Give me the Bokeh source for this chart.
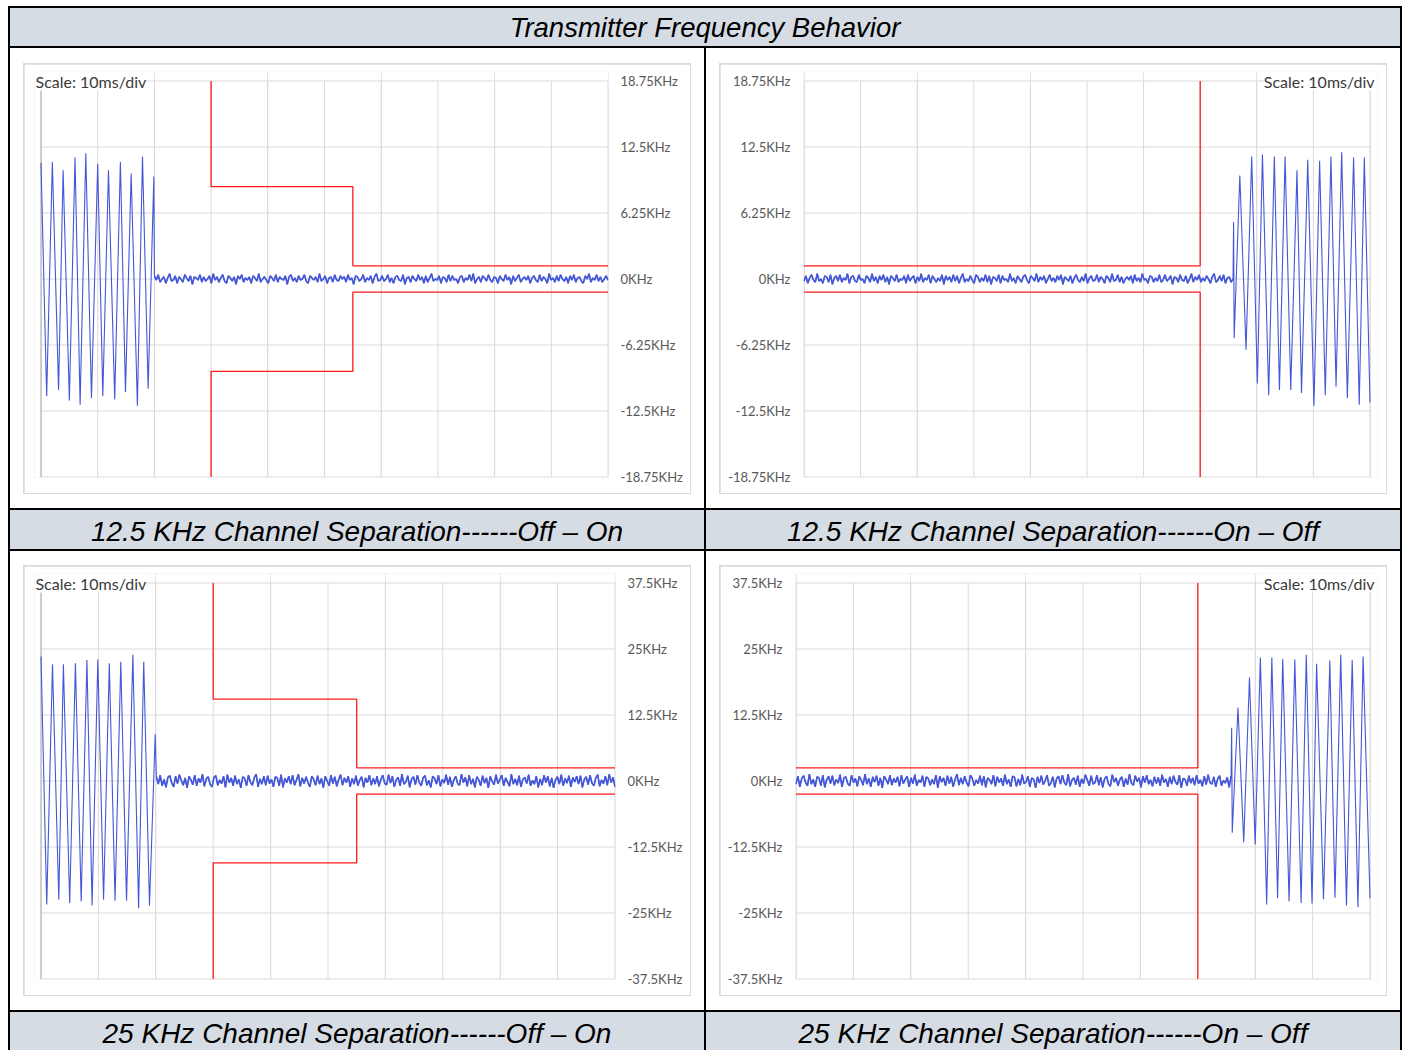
import numpy as np
from bokeh.plotting import figure
from bokeh.layouts import column, row
from bokeh.models import Div, FixedTicker, Label, Range1d
from bokeh.embed import file_html
from bokeh.resources import INLINE

# ---------------- data ----------------
TITLE = "Transmitter Frequency Behavior"
CAPTIONS = [
    "12.5 KHz Channel Separation------Off \u2013 On",
    "12.5 KHz Channel Separation------On \u2013 Off",
    "25 KHz Channel Separation------Off \u2013 On",
    "25 KHz Channel Separation------On \u2013 Off",
]
SCALE_TEXT = "Scale: 10ms/div"

TIME_TICKS = [0, 10, 20, 30, 40, 50, 60, 70, 80, 90, 100]
TICKS_12K5 = [-18.75, -12.5, -6.25, 0, 6.25, 12.5, 18.75]
LABELS_12K5 = ["-18.75KHz", "-12.5KHz", "-6.25KHz", "0KHz", "6.25KHz", "12.5KHz", "18.75KHz"]
TICKS_25K = [-37.5, -25, -12.5, 0, 12.5, 25, 37.5]
LABELS_25K = ["-37.5KHz", "-25KHz", "-12.5KHz", "0KHz", "12.5KHz", "25KHz", "37.5KHz"]

# masks (time in ms, upper limit in KHz; lower limit is the mirror)
MASK_T_OFF_ON = [30, 30, 55, 55, 100]
MASK_12K5_OFF_ON = [18.75, 8.75, 8.75, 1.25, 1.25]
MASK_25K_OFF_ON = [37.5, 15.5, 15.5, 2.5, 2.5]
MASK_T_ON_OFF = [0, 70, 70]
MASK_12K5_ON_OFF = [1.25, 1.25, 18.75]
MASK_25K_ON_OFF = [2.5, 2.5, 37.5]

# 12.5 KHz, Off -> On : burst then settled carrier (noise in 0.1 KHz units)
TL_BURST_T = [0, 1.0, 2.0, 3.1, 3.9, 5.0, 6.0, 6.9, 7.9, 8.9, 10.0, 10.9, 11.9, 13.0,
              14.0, 14.9, 15.9, 17.0, 17.9, 18.9, 19.9]
TL_BURST_F = [11.0, -11.1, 11.1, -10.5, 10.3, -11.5, 11.5, -11.9, 11.9, -11.3, 10.9,
              -11.1, 10.3, -11.4, 11.1, -10.7, 10.0, -12.0, 11.6, -10.4, 9.7]
TL_NOISE_SPAN = [20.0, 100.0]
TL_NOISE = [3, -1, 4, -3, 0, 2, -4, 1, 5, -2, -1, 3, -4, 2, 0, -3, 4, 1, -2, 3,
            -5, 2, 1, -1, 4, -3, 2, -2, 0, 3, -4, 5, -1, 2, -3, 1, 4, -2, -4, 3,
            1, -2, 2, -5, 3, 0, 4, -3, 1, -1, 2, -4, 3, 1, -2, 5, -3, 0, 2, -1,
            -4, 3, 1, -2, 4, -3, 2, 0, -1, 3, -5, 2, 4, -2, 1, -3, 3, -1, 0, 4,
            -2, -4, 3, 1, -1, 2, -3, 5, -2, 0, 3, -4, 1, 2, -3, 4, -1, -2, 3, 0,
            2, -3, 4, -1, 1, -5, 3, 2, -2, 0, 4, -3, 1, -1, 3, -4, 2, 5, -2, -1,
            3, -2, 0, 4, -3, 1, -4, 2, 3, -1, -2, 4, -5, 1, 2, -3, 3, 0, -2, 4,
            -1, 2, -4, 3, -3, 1, 5, -2, 0, -1, 3, -4, 2, 1, -3, 4, -2, 3, -1, 0,
            -4, 2, 3, -3, 1, -1, 4, -2, 5, -4, 0, 2, -3, 3, 1, -2, 4, -1, -3, 2,
            1, -4, 3, 0, -2, 4, -1, 2, -5, 3, -2, 1, 4, -3, 0, 2, -1, 3, -4, 1,
            3, -1, -3, 4, -2, 2, 0, -4, 5, -1, 1, -3, 3, -2, 4, 0, -2, 2, -4, 3,
            -1, 4, -3, 1, 2, -2, -4, 3, 0, 5, -3, 1, -1, 4, -2, 2, -3, 0, 3, -1]

# 12.5 KHz, On -> Off : carrier then burst
TR_NOISE_SPAN = [0.0, 75.8]
TR_NOISE = [-2, 3, -4, 1, 4, -1, -3, 5, -2, 0, -4, 3, 2, -3, 4, -5, 1, 3, -2,
            4, -3, 1, -1, 5, -4, 2, 3, -2, -3, 4, -1, 0, -4, 3, 1, -3, 5, -2,
            2, -4, 3, -1, 4, -3, 2, -5, 3, 1, -2, 4, -3, 0, -1, 3, -4, 4, -2,
            1, 3, -4, 2, -2, 5, -3, 1, -1, 4, -4, 3, 0, -3, 1, -2, 4, -5, 3,
            -1, 2, -3, 4, -2, 3, -4, 1, 5, -3, 0, -2, 3, -1, -4, 4, 2, -3, 1,
            -2, 4, -3, 3, -5, 2, 1, -2, 4, -4, 3, -1, 0, -3, 5, -2, 1, -4, 3,
            0, -3, 2, 4, -1, -4, 3, 1, -2, 5, -3, 2, -1, 3, -4, 0, 4, -2, 1,
            -3, 3, -1, 4, -5, 2, 0, -2, 3, -4, 1, 4, -1, -3, 2, -2, 5, -4, 1,
            3, -2, -1, 4, -3, 2, 0, -4, 3, 1, -3, 5, -2, -1, 4, -3, 2, -4, 0,
            2, -1, 3, -4, 4, -2, 1, -3, 5, -1, 0, -4, 3, 2, -3, 1, -2, 4, -3,
            -1, 4, -2, 0, 3, -5, 2, 1, -3, 4, -1, -2, 3, -4, 0, 5, -3, 2, -1,
            4, -3, 1, -2, 3, 0, -4, 2, 5, -3, -1, 3, -2, 4, -4, 1, 2, -3, 0]
TR_BURST_T = [75.9, 76.0, 77.0, 78.1, 79.1, 80.1, 81.0, 82.1, 83.1, 84.0, 85.0, 86.0, 87.1,
              87.9, 89.0, 90.1, 91.1, 92.1, 93.1, 94.0, 95.0, 96.0, 97.1, 98.1, 99.0, 100.0]
TR_BURST_F = [5.4, -5.6, 9.8, -6.7, 11.6, -9.9, 11.8, -11.0, 11.6, -10.5, 11.6, -10.5, 10.3,
              -10.8, 11.3, -12.0, 11.2, -11.0, 11.6, -10.2, 12.0, -11.3, 11.5, -11.9, 11.5, -11.7]

# 25 KHz, Off -> On
BL_BURST_T = [0, 1.0, 2.0, 3.1, 3.9, 5.0, 6.0, 7.0, 8.0, 8.9, 9.9, 10.9, 11.9, 12.9,
              13.9, 14.9, 16.0, 17.0, 17.9, 18.9, 19.9]
BL_BURST_F = [23.6, -23.4, 22.1, -22.5, 22.1, -23.1, 22.3, -22.8, 22.9, -23.6, 23.0,
              -22.5, 22.3, -22.7, 22.6, -22.7, 23.9, -24.1, 22.6, -23.6, 8.9]
BL_NOISE_SPAN = [20.1, 100.0]
BL_NOISE = [8, -6, 11, -9, 3, -12, 7, 10, -4, -11, 9, -5, 12, 1, -8, 6, -13, 9, 2, -7,
            11, -9, 5, -3, 13, -10, 4, 8, -6, -11, 7, 10, -8, 2, -5, 9, -12, 12, -3, 6,
            -9, 10, -6, 3, -13, 8, 5, -9, 11, -2, -8, 6, 13, -11, 4, -6, 9, -8, 10, -5,
            3, -11, 8, 6, -9, 12, -12, 5, -3, 9, -6, 11, -8, 2, 13, -10, 6, -5, 8, -3,
            -11, 9, 3, -8, 10, -6, 5, -13, 9, 0, -9, 11, -5, 8, -10, 3, 12, -8, 6, -3,
            9, -11, 5, -6, 10, -9, 2, 8, -12, 6, -3, 11, -8, 5, -6, 9, -10, 3, 11, -5,
            -7, 12, -4, 9, -11, 2, 7, -9, 13, -6, -2, 10, -12, 4, 8, -7, 11, -3, -9, 6,
            10, -8, 1, -12, 9, 5, -6, 11, -10, 3, -4, 12, -7, 8, -11, 2, 9, -5, -8, 13,
            -3, 7, -10, 11, -6, 4, -12, 8, 2, -9, 10, -4, 6, -13, 9, -1, -7, 12, -5, 3,
            11, -9, 6, -2, -10, 13, -6, 4, -8, 10, -11, 3, 7, -5, 12, -9, 1, -6, 9, -12,
            4, -8, 11, -3, 9, -10, 6, -13, 2, 8, -6, 12, -9, 5, -4, 10, -11, 7, -2, 9,
            -6, 10, -12, 3, 8, -7, 11, -4, -9, 6, 12, -10, 2, -5, 9, -8, 13, -3, 7, -11]

# 25 KHz, On -> Off
BR_NOISE_SPAN = [0.0, 75.8]
BR_NOISE = [-6, 9, -11, 5, 10, -3, -9, 13, -6, 3, -11, 8, 6, -9, 11, -12, 2, 9, -5,
            10, -8, 3, -4, 12, -11, 6, 8, -5, -9, 11, -3, 5, -10, 9, 2, -8, 13, -6,
            5, -11, 8, -2, 10, -9, 6, -13, 9, 3, -6, 11, -8, 5, -3, 8, -10, 11, -5,
            3, 9, -11, 6, -5, 12, -9, 2, -3, 10, -11, 8, 5, -8, 3, -6, 11, -13, 9,
            -2, 6, -9, 10, -5, 8, -11, 3, 13, -8, 6, -6, 9, -3, -10, 11, 5, -9, 2,
            -5, 10, -8, 9, -12, 6, 2, -6, 11, -10, 8, -3, 5, -9, 12, -6, 3, -11, 9,
            7, -10, 4, -8, 12, -5, -2, 9, -11, 6, 3, -13, 8, -4, 10, -7, 1, 11, -9,
            -4, 8, -12, 5, 9, -6, 11, -3, -8, 13, -10, 2, 6, -7, 10, -11, 4, -5, 12,
            2, -9, 10, -6, -3, 11, -8, 7, -12, 4, 9, -5, -10, 12, -2, 6, -9, 3, 8,
            -11, 5, -7, 13, -4, -8, 10, -1, 6, -12, 9, -3, 11, -6, 2, -10, 8, -5, 7,
            -9, 12, -3, 4, -11, 8, -6, 10, -2, -7, 11, -13, 5, 3, -9, 10, -4, 6, -8,
            11, -5, 2, -10, 9, -7, 12, -3, -6, 8, -11, 4, 10, -9, 1, -4, 7, -12, 9]
BR_BURST_T = [75.9, 76.0, 77.0, 78.0, 79.0, 80.0, 80.9, 82.0, 82.9, 83.9, 84.8, 85.9, 86.9,
              88.0, 88.9, 89.9, 90.7, 91.9, 93.0, 93.9, 94.9, 95.9, 96.9, 97.9, 98.8, 100.0]
BR_BURST_F = [10.1, -9.8, 13.9, -11.6, 19.6, -12.0, 23.4, -23.4, 23.4, -22.2, 23.1, -22.8, 23.0,
              -23.1, 23.9, -23.2, 22.2, -22.4, 22.8, -22.1, 23.9, -23.6, 22.9, -23.9, 23.6, -22.2]
NOISE_UNIT = 0.1  # KHz per noise count

# ---------------- styles ----------------
BLUE = "#4357d8"
RED = "#ff1a1a"
GRID = "#d9d9d9"
AXIS_EDGE = "#b4b4b4"
HEAD_BG = "#d6dce4"
LABEL_FONT = "Lato"
TEXT_FONT = "'Liberation Sans', Arial, sans-serif"


def noise_xy(noise_span, noise):
    nt = list(np.linspace(noise_span[0], noise_span[1], len(noise)))
    return nt, [v * NOISE_UNIT for v in noise]


def panel(burst_t, burst_f, noise_span, noise, burst_first, mask_t, mask_up,
          ticks, labels, side, data_w, ext_l, ext_r, border_l, border_r,
          standoff, scale_x, scale_align):
    lim = max(ticks)
    data_h, ext_t, ext_b = 396, 9.5, 0.5
    xs = 100.0 / data_w
    ys = 2.0 * lim / data_h
    p = figure(frame_width=int(round(data_w + ext_l + ext_r)),
               frame_height=int(round(data_h + ext_t + ext_b)),
               x_range=Range1d(-ext_l * xs, 100 + ext_r * xs),
               y_range=Range1d(-lim - ext_b * ys, lim + ext_t * ys),
               x_axis_location=None, y_axis_location=side,
               min_border_left=border_l, min_border_right=border_r,
               min_border_top=7, min_border_bottom=16,
               output_backend="svg", toolbar_location=None,
               background_fill_color="white", border_fill_color="white",
               outline_line_color=None)
    p.ygrid.visible = False
    ax = p.yaxis[0]
    ax.ticker = FixedTicker(ticks=ticks)
    ax.major_label_overrides = {tk: lb for tk, lb in zip(ticks, labels)}
    ax.axis_line_color = None
    ax.major_tick_line_color = None
    ax.minor_tick_line_color = None
    ax.major_tick_out = 0
    ax.major_tick_in = 0
    ax.major_label_standoff = standoff
    ax.major_label_text_font = LABEL_FONT
    ax.major_label_text_font_size = "13px"
    ax.major_label_text_color = "#595959"

    # chart grid (10 ms per division, one line per y tick)
    nx, ny = len(TIME_TICKS), len(ticks)
    p.segment(x0=TIME_TICKS, y0=[-lim] * nx, x1=TIME_TICKS, y1=[lim] * nx,
              line_color=GRID, line_width=1)
    p.segment(x0=[0] * ny, y0=ticks, x1=[100] * ny, y1=ticks,
              line_color=GRID, line_width=1)
    if burst_first:
        # value-axis line at the start of the time axis
        p.segment(x0=[TIME_TICKS[0]], y0=[-lim], x1=[TIME_TICKS[0]], y1=[lim],
                  line_color=AXIS_EDGE, line_width=1)

    nt, nf = noise_xy(noise_span, noise)
    if burst_first:
        t, f = list(burst_t) + nt, list(burst_f) + nf
    else:
        t, f = nt + list(burst_t), nf + list(burst_f)
    p.line(t, f, line_color=BLUE, line_width=1.1)
    p.line(nt, nf, line_color=BLUE, line_width=1.6)
    p.line(mask_t, mask_up, line_color=RED, line_width=1.3)
    p.line(mask_t, [-v for v in mask_up], line_color=RED, line_width=1.3)

    p.add_layout(Label(x=scale_x, y=lim, text=SCALE_TEXT, text_align=scale_align,
                       text_baseline="middle", text_font=LABEL_FONT,
                       text_font_size="16px", text_color="#3a3a3a",
                       background_fill_color="white"))
    return p


def cell(fig, pad):
    inner = column(fig, styles={"background-color": GRID, "padding": "1px"})
    return column(inner, styles={"background-color": "white", "padding": pad})


def caption(text, h):
    return Div(text=text, width=694, height=h, margin=0,
               styles={"background-color": HEAD_BG, "font-family": TEXT_FONT,
                       "font-style": "italic", "font-size": "28px",
                       "color": "#000000", "text-align": "center",
                       "line-height": "43px", "overflow": "hidden",
                       "white-space": "nowrap"})


p1 = panel(TL_BURST_T, TL_BURST_F, TL_NOISE_SPAN, TL_NOISE, True,
           MASK_T_OFF_ON, MASK_12K5_OFF_ON, TICKS_12K5, LABELS_12K5,
           "right", 567, 6.5, 0.5, 10, 82, 12, -0.97, "left")
p2 = panel(TR_BURST_T, TR_BURST_F, TR_NOISE_SPAN, TR_NOISE, False,
           MASK_T_ON_OFF, MASK_12K5_ON_OFF, TICKS_12K5, LABELS_12K5,
           "left", 566, 0.5, 7.5, 83, 9, 13, 100.8, "right")
p3 = panel(BL_BURST_T, BL_BURST_F, BL_NOISE_SPAN, BL_NOISE, True,
           MASK_T_OFF_ON, MASK_25K_OFF_ON, TICKS_25K, LABELS_25K,
           "right", 574, 6.5, 0.5, 10, 75, 12, -0.96, "left")
p4 = panel(BR_BURST_T, BR_BURST_F, BR_NOISE_SPAN, BR_NOISE, False,
           MASK_T_ON_OFF, MASK_25K_ON_OFF, TICKS_25K, LABELS_25K,
           "left", 574, 0.5, 7.5, 75, 9, 13, 100.8, "right")

title = Div(text=TITLE, width=1390, height=38, margin=0,
            styles={"background-color": HEAD_BG, "font-family": TEXT_FONT,
                    "font-style": "italic", "font-size": "27.5px",
                    "color": "#000000", "text-align": "center",
                    "line-height": "40px", "overflow": "hidden",
                    "white-space": "nowrap"})

black = {"background-color": "black"}
root = column(
    title,
    row(cell(p1, "15px 13px 14px 13px"), cell(p2, "15px 13px 14px 13px"), spacing=2, styles=black),
    row(caption(CAPTIONS[0], 39), caption(CAPTIONS[1], 39), spacing=2, styles=black),
    row(cell(p3, "14px 13px 14px 13px"), cell(p4, "14px 13px 14px 13px"), spacing=2, styles=black),
    row(caption(CAPTIONS[2], 38), caption(CAPTIONS[3], 38), spacing=2, styles=black),
    spacing=2, margin=(6, 0, 0, 8),
    styles={"background-color": "black", "padding": "2px 2px 0px 2px"},
)

open("out.html", "w").write(file_html(root, INLINE))
